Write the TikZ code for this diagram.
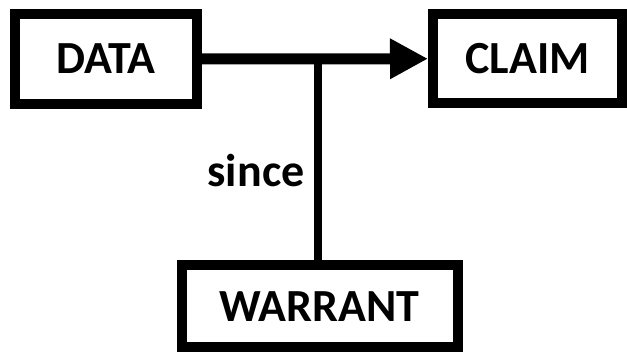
\documentclass[tikz,border=0pt]{standalone}
\usepackage{fontspec}
\setmainfont{Carlito}
\usetikzlibrary{arrows.meta}
\tikzset{
  termbox/.style={draw=black, line width=10pt, fill=white, inner sep=0pt,
    font=\fontsize{46}{50}\selectfont\bfseries},
  link/.style={draw=black, line width=11pt},
  stem/.style={draw=black, line width=8pt},
  bigtip/.style={-{Triangle[length=38pt,width=38pt]}},
  lbl/.style={font=\fontsize{46}{50}\selectfont\bfseries, inner sep=0pt, anchor=base}
}
\begin{document}
\begin{tikzpicture}[x=1pt, y=-1pt]
  \useasboundingbox (0,0) rectangle (627,352);
  \node[termbox, minimum width=182pt, minimum height=90pt] (data) at (106,59) {DATA};
  \node[termbox, minimum width=189pt, minimum height=89.5pt] (claim) at (527.5,58.75) {CLAIM};
  \node[termbox, minimum width=276pt, minimum height=82.5pt] (warrant) at (319.5,306.25) {WARRANT};
  % data leads to claim
  \draw[link, bigtip] (data.east) -- (claim.west);
  % the warrant joins the main line
  \coordinate (join) at (318,56.5);
  \draw[stem] (join) -- (join |- warrant.north);
  \node[lbl] (since) at (256,187) {since};
\end{tikzpicture}
\end{document}
